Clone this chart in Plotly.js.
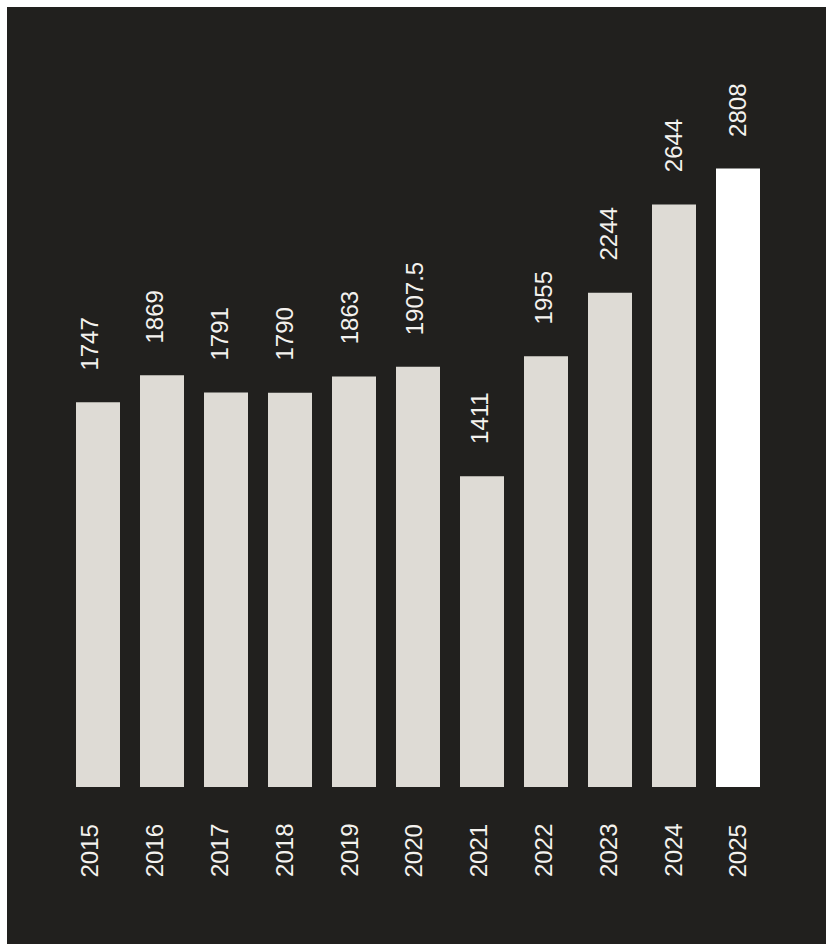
<!DOCTYPE html>
<html>
<head>
<meta charset="utf-8">
<script src="https://cdn.plot.ly/plotly-3.0.1.min.js"></script>
<style>
  html, body { margin: 0; padding: 0; background: #ffffff; }
  #chart { position: absolute; left: 7px; top: 7px; width: 819px; height: 937px; }
</style>
</head>
<body>
<div id="chart"></div>
<script>
const years = ["2015", "2016", "2017", "2018", "2019", "2020", "2021", "2022", "2023", "2024", "2025"];
const values = [1747, 1869, 1791, 1790, 1863, 1907.5, 1411, 1955, 2244, 2644, 2808];
const valueLabels = ["1747", "1869", "1791", "1790", "1863", "1907.5", "1411", "1955", "2244", "2644", "2808"];
const highlightYear = "2025";

const bg = "#21201e";
const barColor = "#dedbd5";
const highlightColor = "#ffffff";
const textColor = "#f4f2ee";
const fontFamily = "'Liberation Sans', Arial, sans-serif";

const trace = {
  type: "bar",
  x: years,
  y: values,
  marker: { color: years.map(y => y === highlightYear ? highlightColor : barColor) },
  hoverinfo: "none"
};

const annotations = [];
years.forEach((yr, i) => {
  annotations.push({
    xref: "x2", yref: "y", x: i, y: values[i],
    text: valueLabels[i], showarrow: false, textangle: -90,
    xanchor: "center", yanchor: "bottom", yshift: 30,
    font: { family: fontFamily, size: 24, color: textColor }
  });
  annotations.push({
    xref: "x2", yref: "paper", x: i, y: 0,
    text: yr, showarrow: false, textangle: -90,
    xanchor: "center", yanchor: "bottom", yshift: -92,
    font: { family: fontFamily, size: 24, color: textColor }
  });
});

const layout = {
  width: 819, height: 937,
  paper_bgcolor: bg, plot_bgcolor: bg,
  margin: { l: 59, r: 56, t: 53, b: 157, pad: 0 },
  bargap: 0.3125,
  showlegend: false,
  xaxis: { type: "category", range: [-0.5, 10.5], showticklabels: false, showgrid: false, zeroline: false, showline: false, ticks: "" },
  xaxis2: { type: "linear", overlaying: "x", range: [-0.370, 10.494], visible: false, showgrid: false, zeroline: false },
  yaxis: { range: [0, 3300], visible: false, showgrid: false, zeroline: false },
  annotations: annotations
};

Plotly.newPlot("chart", [trace], layout, { staticPlot: true, displayModeBar: false });
</script>
</body>
</html>
